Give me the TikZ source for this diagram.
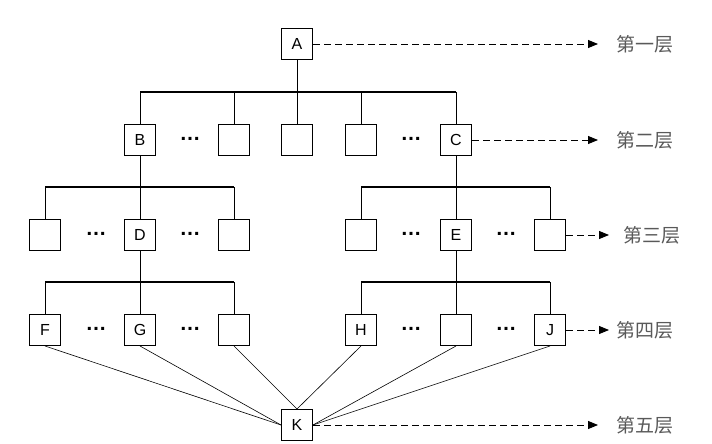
\documentclass[tikz,border=0pt]{standalone}
\usepackage{fontspec}
\setsansfont{Liberation Sans}
\newfontfamily\cjk{Noto Sans CJK SC}
\usetikzlibrary{arrows.meta}
\begin{document}
\begin{tikzpicture}[x=1pt,y=-1pt,
  box/.style={draw, line width=1pt, minimum size=31pt, inner sep=0pt, fill=white,
    font=\sffamily\fontsize{16}{16}\selectfont},
  dots/.style={anchor=base, inner sep=0pt, font=\sffamily\bfseries\fontsize{21}{21}\selectfont},
  tree/.style={line width=1pt},
  bus/.style={line width=2.2pt},
  thin/.style={line width=0.6pt},
  dasharr/.style={line width=0.9pt, dash pattern=on 7pt off 4pt,
    -{Triangle[length=10pt,width=8pt]}},
  lab/.style={anchor=west, inner sep=0pt, text=black!65,
    font=\cjk\fontsize{19}{19}\selectfont}]
\useasboundingbox (0,0) rectangle (712,444);
\fill[white] (0,0) rectangle (712,444);

% level 1
\node[box] (A) at (297,44) {A};
% level 2
\node[box] (B)  at (140,140) {B};
\node[box] (b2) at (234,140) {};
\node[box] (b3) at (297,140) {};
\node[box] (b4) at (361,140) {};
\node[box] (C)  at (456,140) {C};
\node[dots] (p21) at (190,140) {…};
\node[dots] (p22) at (411,140) {…};
% level 3
\node[box] (c1) at (45,235) {};
\node[box] (D)  at (140,235) {D};
\node[box] (c3) at (234,235) {};
\node[box] (c4) at (361,235) {};
\node[box] (E)  at (456,235) {E};
\node[box] (c6) at (550,235) {};
\node[dots] (p31) at (96,235.5) {…};
\node[dots] (p32) at (190,235.5) {…};
\node[dots] (p33) at (411,235.5) {…};
\node[dots] (p34) at (506,235.5) {…};
% level 4
\node[box] (F)  at (45,330) {F};
\node[box] (G)  at (140,330) {G};
\node[box] (d3) at (234,330) {};
\node[box] (H)  at (361,330) {H};
\node[box] (d5) at (456,330) {};
\node[box] (J)  at (550,330) {J};
\node[dots] (p41) at (96,330.5) {…};
\node[dots] (p42) at (190,330.5) {…};
\node[dots] (p43) at (411,330.5) {…};
\node[dots] (p44) at (506,330.5) {…};
% level 5
\node[box] (K) at (297,425) {K};

% bus rows
\coordinate (r1) at (0,92);
\coordinate (r2) at (0,187);
\coordinate (r3) at (0,282);

\draw[tree] (A.south) -- (A|-r1);
\draw[bus] (B|-r1) -- (C|-r1);
\foreach \n in {B,b2,b3,b4,C} \draw[tree] (\n|-r1) -- (\n.north);

\draw[tree] (B.south) -- (B|-r2);
\draw[bus] (c1|-r2) -- (c3|-r2);
\foreach \n in {c1,D,c3} \draw[tree] (\n|-r2) -- (\n.north);
\draw[tree] (C.south) -- (C|-r2);
\draw[bus] (c4|-r2) -- (c6|-r2);
\foreach \n in {c4,E,c6} \draw[tree] (\n|-r2) -- (\n.north);

\draw[tree] (D.south) -- (D|-r3);
\draw[bus] (F|-r3) -- (d3|-r3);
\foreach \n in {F,G,d3} \draw[tree] (\n|-r3) -- (\n.north);
\draw[tree] (E.south) -- (E|-r3);
\draw[bus] (H|-r3) -- (J|-r3);
\foreach \n in {H,d5,J} \draw[tree] (\n|-r3) -- (\n.north);

% lines to K
\draw[thin] (F.south) -- (K.west);
\draw[thin] (G.south) -- (K.west);
\draw[thin] (d3.south) -- (K.north);
\draw[thin] (H.south) -- (K.north);
\draw[thin] (d5.south) -- (K.east);
\draw[thin] (J.south) -- (K.east);

% level labels
\node[lab] (L1) at (616,44) {第一层};
\node[lab] (L2) at (616,140) {第二层};
\node[lab] (L3) at (623,235) {第三层};
\node[lab] (L4) at (616,330) {第四层};
\node[lab] (L5) at (616,425) {第五层};
\coordinate (e1) at (598,44);
\coordinate (e2) at (598,140);
\coordinate (e3) at (609,235);
\coordinate (e4) at (609,330);
\coordinate (e5) at (598,425);
\draw[dasharr] (A.east) -- (e1);
\draw[dasharr] (C.east) -- (e2);
\draw[dasharr] (c6.east) -- (e3);
\draw[dasharr] (J.east) -- (e4);
\draw[dasharr] (K.east) -- (e5);
\end{tikzpicture}
\end{document}
